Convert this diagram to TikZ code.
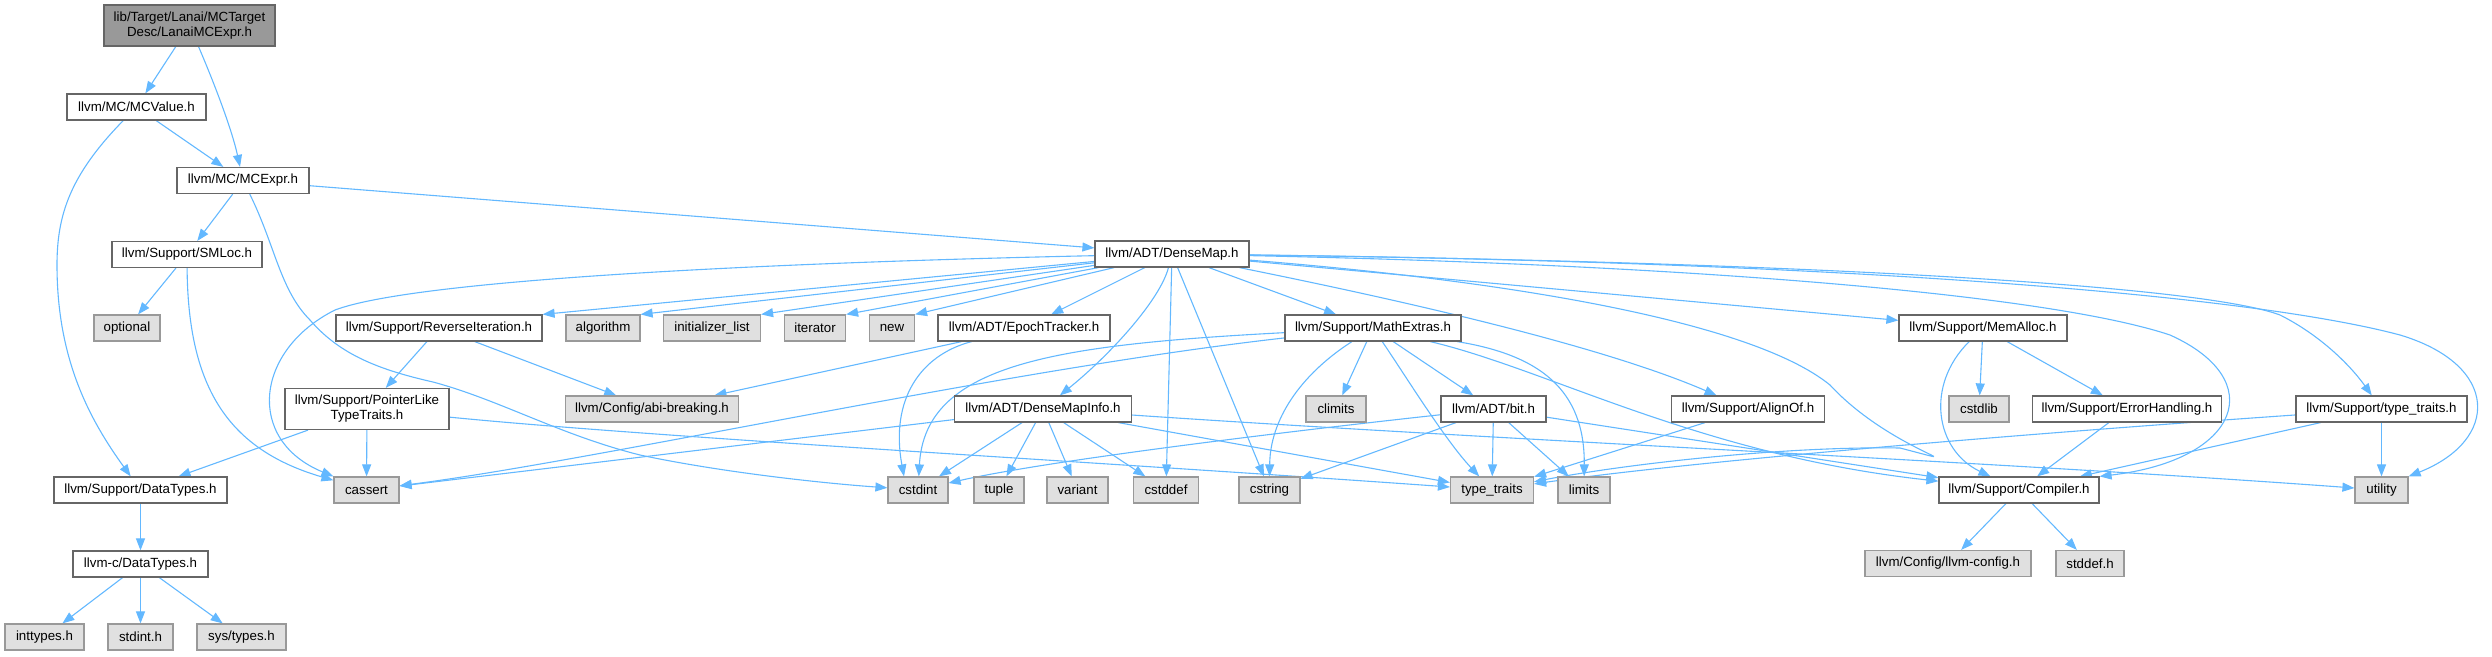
\documentclass[tikz,border=0pt]{standalone}
\usepackage{fontspec}
\setmainfont{Liberation Sans}
\usetikzlibrary{arrows.meta,backgrounds}
\definecolor{edgeblue}{HTML}{63B8FF}
\definecolor{grayfill}{HTML}{E0E0E0}
\definecolor{grayline}{HTML}{999999}
\definecolor{darkline}{HTML}{666666}
\definecolor{rootfill}{HTML}{999999}
\tikzset{
  box/.style={draw=darkline, fill=white, line width=1.2pt, minimum height=26pt, inner xsep=2pt, inner ysep=0pt,
    font=\fontsize{13.3pt}{15pt}\selectfont, text=black, align=center, anchor=center},
  sysbox/.style={box, draw=grayline, fill=grayfill},
  rootbox/.style={box, fill=rootfill, minimum height=41pt},
  twobox/.style={box, minimum height=41pt},
  lnk/.style={draw=edgeblue, line width=1.1pt, -{Triangle[length=12pt,width=9pt]}}
}
\begin{document}
\begin{tikzpicture}[x=1pt,y=-1pt]
\useasboundingbox (0,0) rectangle (2492,656);
% row 1-4
\node[rootbox, minimum width=171pt] (lanai) at (189.5,25.5) {lib/Target/Lanai/MCTarget\\Desc/LanaiMCExpr.h};
\node[box, minimum width=139pt] (mcvalue) at (136.5,107) {llvm/MC/MCValue.h};
\node[box, minimum width=132pt] (mcexpr) at (243,180.5) {llvm/MC/MCExpr.h};
\node[box, minimum width=150pt] (smloc) at (187,254.5) {llvm/Support/SMLoc.h};
\node[box, minimum width=154pt] (densemap) at (1172,254) {llvm/ADT/DenseMap.h};
% row 5
\node[sysbox, minimum width=66pt] (optional) at (127,328) {optional};
\node[box, minimum width=206pt] (reverseit) at (439,328) {llvm/Support/ReverseIteration.h};
\node[sysbox, minimum width=74pt] (algorithm) at (603,328) {algorithm};
\node[sysbox, minimum width=97pt] (initlist) at (712,328) {initializer\_list};
\node[sysbox, minimum width=61pt] (iterator) at (815,328) {iterator};
\node[sysbox, minimum width=45pt] (newh) at (892,328) {new};
\node[box, minimum width=172pt] (epoch) at (1024,328) {llvm/ADT/EpochTracker.h};
\node[box, minimum width=176pt] (mathextras) at (1373,328) {llvm/Support/MathExtras.h};
\node[box, minimum width=168pt] (memalloc) at (1983,328) {llvm/Support/MemAlloc.h};
% row 6
\node[twobox, minimum width=164pt] (pointerlike) at (367,409) {llvm/Support/PointerLike\\TypeTraits.h};
\node[sysbox, minimum width=173pt] (abi) at (652,409) {llvm/Config/abi-breaking.h};
\node[box, minimum width=177pt] (dmi) at (1043,409) {llvm/ADT/DenseMapInfo.h};
\node[sysbox, minimum width=60pt] (climits) at (1336,409) {climits};
\node[box, minimum width=105pt] (bith) at (1493.5,409) {llvm/ADT/bit.h};
\node[box, minimum width=153pt] (alignof) at (1748,409) {llvm/Support/AlignOf.h};
\node[sysbox, minimum width=60pt] (cstdlib) at (1979,409) {cstdlib};
\node[box, minimum width=189pt] (errh) at (2127,409) {llvm/Support/ErrorHandling.h};
\node[box, minimum width=171pt] (tth) at (2381.5,409) {llvm/Support/type\_traits.h};
% row 7
\node[box, minimum width=173pt] (datatypes) at (140.5,490) {llvm/Support/DataTypes.h};
\node[sysbox, minimum width=65pt] (cassert) at (366.5,490) {cassert};
\node[sysbox, minimum width=60pt] (cstdint) at (918,490) {cstdint};
\node[sysbox, minimum width=50pt] (tuple) at (999,490) {tuple};
\node[sysbox, minimum width=61pt] (variant) at (1077.5,490) {variant};
\node[sysbox, minimum width=65pt] (cstddef) at (1166,490) {cstddef};
\node[sysbox, minimum width=61pt] (cstring) at (1269.5,490) {cstring};
\node[sysbox, minimum width=83pt] (typetraits) at (1492,490) {type\_traits};
\node[sysbox, minimum width=52pt] (limits) at (1584,490) {limits};
\node[box, minimum width=160pt] (compiler) at (2019,490) {llvm/Support/Compiler.h};
\node[sysbox, minimum width=53pt] (utility) at (2381.5,490) {utility};
% row 8-9
\node[box, minimum width=135pt] (cdatatypes) at (140.5,564) {llvm-c/DataTypes.h};
\node[sysbox, minimum width=166pt] (llvmconfig) at (1948,563.5) {llvm/Config/llvm-config.h};
\node[sysbox, minimum width=68pt] (stddef) at (2090,563.5) {stddef.h};
\node[sysbox, minimum width=79pt] (inttypes) at (44.5,637) {inttypes.h};
\node[sysbox, minimum width=65pt] (stdint) at (140.5,637) {stdint.h};
\node[sysbox, minimum width=89pt] (systypes) at (241.5,637) {sys/types.h};

\begin{scope}[on background layer]
\draw[lnk] (lanai) -- (mcvalue);
\draw[lnk] (lanai) .. controls (215,85) and (232,130) .. (mcexpr);
\draw[lnk] (mcvalue) -- (mcexpr);
\draw[lnk] (mcvalue) .. controls (70,175) and (57,215) .. (57,265) .. controls (57,360) and (90,420) .. (datatypes);
\draw[lnk] (mcexpr) -- (smloc);
\draw[lnk] (mcexpr) -- (densemap);
\draw[lnk] (mcexpr) .. controls (275,245) and (280,290) .. (310,320) .. controls (340,355) and (380,370) .. (433,382) .. controls (500,400) and (560,435) .. (640,455) .. controls (720,472) and (820,483) .. (cstdint);
\draw[lnk] (smloc) -- (optional);
\draw[lnk] (smloc) .. controls (188,390) and (230,450) .. (cassert);
% DenseMap
\draw[lnk] (densemap) .. controls (800,262) and (420,278) .. (335,310) .. controls (255,350) and (245,440) .. (cassert);
\draw[lnk] (densemap) -- (reverseit.north east);
\draw[lnk] (densemap) -- (algorithm.north east);
\draw[lnk] (densemap) -- (initlist.north east);
\draw[lnk] (densemap) -- (iterator.north east);
\draw[lnk] (densemap) -- (newh.north east);
\draw[lnk] (densemap) -- (epoch);
\draw[lnk] (densemap) .. controls (1160,300) and (1110,355) .. (dmi);
\draw[lnk] (densemap) -- (cstddef);
\draw[lnk] (densemap) -- (cstring);
\draw[lnk] (densemap) -- (mathextras);
\draw[lnk] (densemap) .. controls (1400,300) and (1600,345) .. (alignof);
\draw[lnk] (densemap) -- (memalloc);
\draw[lnk] (densemap) .. controls (1800,262) and (2200,285) .. (2280,315) .. controls (2320,335) and (2350,365) .. (tth);
\draw[lnk] (densemap) .. controls (1850,262) and (2250,295) .. (2400,335) .. controls (2500,365) and (2500,440) .. (utility.north east);
\draw[lnk] (densemap) .. controls (1700,265) and (2050,295) .. (2170,335) .. controls (2270,380) and (2240,460) .. (compiler.north east);
\draw[lnk] (densemap) .. controls (1500,280) and (1750,320) .. (1830,385) .. controls (1890,450) and (1985,470) .. (1900,448) .. controls (1780,446) and (1620,465) .. (typetraits);
% ReverseIteration, EpochTracker
\draw[lnk] (reverseit) -- (pointerlike);
\draw[lnk] (reverseit) -- (abi);
\draw[lnk] (epoch) -- (abi);
\draw[lnk] (epoch) .. controls (920,355) and (890,400) .. ([xshift=-14pt]cstdint.north);
% PointerLike
\draw[lnk] (pointerlike) -- (datatypes);
\draw[lnk] (pointerlike) -- (cassert);
\draw[lnk] (pointerlike) .. controls (650,437) and (1100,462) .. (typetraits);
% DataTypes
\draw[lnk] (datatypes) -- (cdatatypes);
\draw[lnk] (cdatatypes) -- (inttypes);
\draw[lnk] (cdatatypes) -- (stdint);
\draw[lnk] (cdatatypes) -- (systypes);
% MathExtras
\draw[lnk] (mathextras) .. controls (1000,370) and (600,460) .. (cassert);
\draw[lnk] (mathextras) .. controls (1050,345) and (925,365) .. (cstdint);
\draw[lnk] (mathextras) -- (climits);
\draw[lnk] (mathextras) .. controls (1300,375) and (1270,420) .. (cstring);
\draw[lnk] (mathextras) .. controls (1405,375) and (1445,440) .. (typetraits);
\draw[lnk] (mathextras) -- (bith);
\draw[lnk] (mathextras) .. controls (1540,355) and (1585,390) .. (limits);
\draw[lnk] (mathextras) .. controls (1550,370) and (1700,455) .. (compiler);
% DenseMapInfo
\draw[lnk] (dmi) -- (cassert);
\draw[lnk] (dmi) -- (cstdint);
\draw[lnk] (dmi) -- (tuple);
\draw[lnk] (dmi) -- (variant);
\draw[lnk] (dmi) -- (cstddef);
\draw[lnk] (dmi) -- (typetraits);
\draw[lnk] (dmi) .. controls (1500,440) and (2000,462) .. (utility);
% bit.h
\draw[lnk] (bith) .. controls (1300,430) and (1050,460) .. (cstdint);
\draw[lnk] (bith) -- (cstring);
\draw[lnk] (bith) -- (typetraits);
\draw[lnk] (bith) -- (limits);
\draw[lnk] (bith) -- (compiler);
% others
\draw[lnk] (alignof) -- (typetraits);
\draw[lnk] (memalloc) .. controls (1925,385) and (1935,450) .. (compiler);
\draw[lnk] (memalloc) -- (cstdlib);
\draw[lnk] (memalloc) -- (errh);
\draw[lnk] (errh) -- (compiler);
\draw[lnk] (tth) .. controls (2050,432) and (1700,460) .. (typetraits);
\draw[lnk] (tth) -- (utility);
\draw[lnk] (tth) -- (compiler);
\draw[lnk] (compiler) -- (llvmconfig);
\draw[lnk] (compiler) -- (stddef);
\end{scope}
\end{tikzpicture}
\end{document}
